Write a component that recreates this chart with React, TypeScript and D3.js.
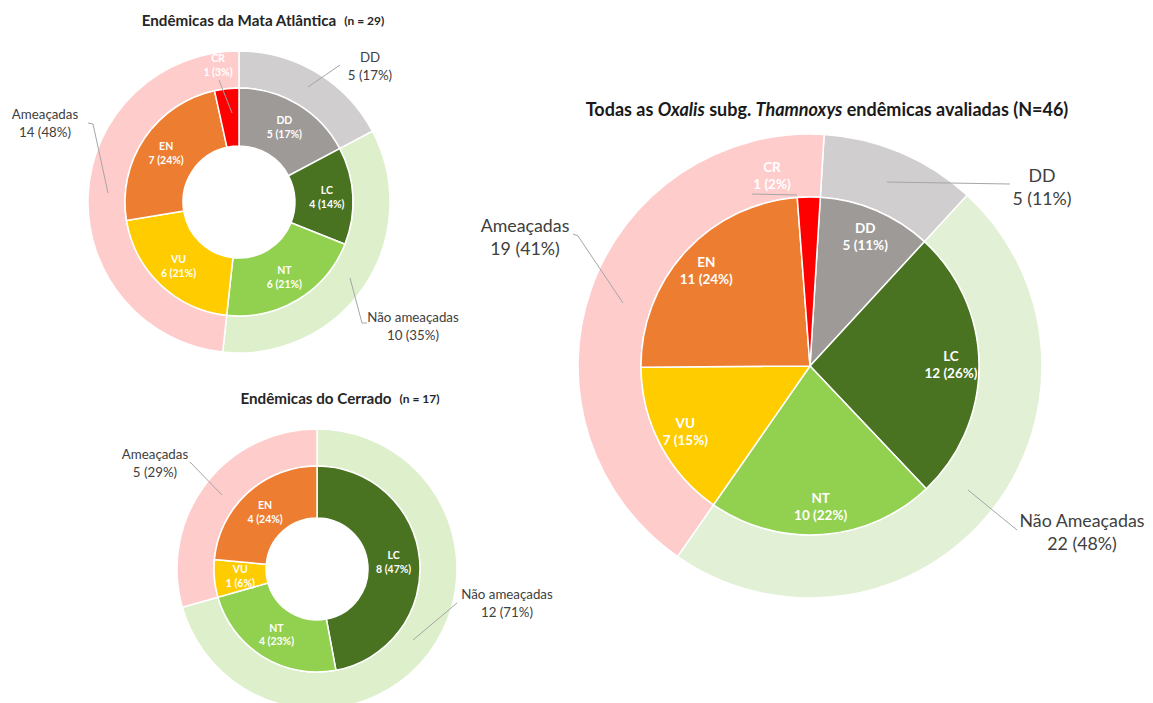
import React from 'react';
import * as d3 from 'd3';

const FONT = "Lato, 'Open Sans', sans-serif";

// ---------- DATA ----------
// Endêmicas da Mata Atlântica (n = 29)
const maInnerCats = ['DD', 'LC', 'NT', 'VU', 'EN', 'CR'];
const maInnerValues = [5, 4, 6, 6, 7, 1];
const maInnerPct = ['17%', '14%', '21%', '21%', '24%', '3%'];
const maOuterCats = ['DD', 'Não ameaçadas', 'Ameaçadas'];
const maOuterValues = [5, 10, 14];
const maOuterPct = ['17%', '35%', '48%'];

// Endêmicas do Cerrado (n = 17)
const ceInnerCats = ['LC', 'NT', 'VU', 'EN'];
const ceInnerValues = [8, 4, 1, 4];
const ceInnerPct = ['47%', '23%', '6%', '24%'];
const ceOuterCats = ['Não ameaçadas', 'Ameaçadas'];
const ceOuterValues = [12, 5];
const ceOuterPct = ['71%', '29%'];

// Todas (N = 46)
const toInnerCats = ['DD', 'LC', 'NT', 'VU', 'EN', 'CR'];
const toInnerValues = [5, 12, 10, 7, 11, 1];
const toInnerPct = ['11%', '26%', '22%', '15%', '24%', '2%'];
const toOuterCats = ['DD', 'Não Ameaçadas', 'Ameaçadas'];
const toOuterValues = [5, 22, 19];
const toOuterPct = ['11%', '48%', '41%'];

const colors: Record<string, string> = {
  DD: '#9E9A98',
  LC: '#4A7321',
  NT: '#92D050',
  VU: '#FFCC00',
  EN: '#ED7D31',
  CR: '#FF0000',
};
const outerColors: Record<string, string> = {
  DD: '#D0CECE',
  'Não ameaçadas': '#DDEFCB',
  'Não Ameaçadas': '#E2F0D6',
  Ameaçadas: '#FFCCCC',
};

type Slice = { cat: string; value: number; pct: string };
const zip = (c: string[], v: number[], p: string[]): Slice[] =>
  c.map((cat, i) => ({ cat, value: v[i], pct: p[i] }));

type OuterLayout = { dx: number; dy: number; leader: [number, number][] };

type Cfg = {
  cx: number;
  cy: number;
  rotation: number;
  rHole: number;
  rIn: number;
  rOut: number;
  labelR: number;
  innerFont: number;
  outerFont: number;
  outerLine: number;
  innerLine: number;
  inner: Slice[];
  outer: Slice[];
  outerLayout: Record<string, OuterLayout>;
  crLayout?: OuterLayout;
};

function Donut({ cfg }: { cfg: Cfg }) {
  const a0 = (cfg.rotation * Math.PI) / 180;
  const pie = d3
    .pie<Slice>()
    .sort(null)
    .startAngle(a0)
    .endAngle(a0 + 2 * Math.PI)
    .value((d) => d.value);
  const innerArcs = pie(cfg.inner);
  const outerArcs = pie(cfg.outer);
  const arcIn = d3.arc<d3.PieArcDatum<Slice>>().innerRadius(cfg.rHole).outerRadius(cfg.rIn);
  const arcOut = d3.arc<d3.PieArcDatum<Slice>>().innerRadius(cfg.rIn).outerRadius(cfg.rOut);
  const labelArc = d3.arc<d3.PieArcDatum<Slice>>().innerRadius(cfg.labelR).outerRadius(cfg.labelR);
  const line = d3.line();
  const lines = (a: Slice) => [a.cat, `${a.value} (${a.pct})`];

  return (
    <g transform={`translate(${cfg.cx},${cfg.cy})`}>
      {outerArcs.map((a, i) => (
        <path key={'o' + i} d={arcOut(a) || ''} fill={outerColors[a.data.cat]} stroke="#fff" strokeWidth={1.5} />
      ))}
      {innerArcs.map((a, i) => (
        <path key={'i' + i} d={arcIn(a) || ''} fill={colors[a.data.cat]} stroke="#fff" strokeWidth={1.5} />
      ))}
      {innerArcs.map((a, i) => {
        if (a.data.cat === 'CR' && cfg.crLayout) {
          const L = cfg.crLayout;
          return (
            <g key={'il' + i}>
              <path d={line(L.leader) || ''} stroke="#A6A6A6" strokeWidth={1} fill="none" />
              <text x={L.dx} y={L.dy} textAnchor="middle" fill="#fff" fontFamily={FONT} fontWeight={700} fontSize={cfg.innerFont}>
                {lines(a.data).map((t, j) => (
                  <tspan key={j} x={L.dx} dy={j === 0 ? -cfg.innerLine / 2 : cfg.innerLine} dominantBaseline="central">
                    {t}
                  </tspan>
                ))}
              </text>
            </g>
          );
        }
        const [x, y] = labelArc.centroid(a);
        return (
          <text key={'il' + i} x={x} y={y} textAnchor="middle" fill="#fff" fontFamily={FONT} fontWeight={700} fontSize={cfg.innerFont}>
            {lines(a.data).map((t, j) => (
              <tspan key={j} x={x} dy={j === 0 ? -cfg.innerLine / 2 : cfg.innerLine} dominantBaseline="central">
                {t}
              </tspan>
            ))}
          </text>
        );
      })}
      {outerArcs.map((a, i) => {
        const L = cfg.outerLayout[a.data.cat];
        if (!L) return null;
        return (
          <g key={'ol' + i}>
            <path d={line(L.leader) || ''} stroke="#A6A6A6" strokeWidth={1} fill="none" />
            <text x={L.dx} y={L.dy} textAnchor="middle" fill="#404040" fontFamily={FONT} fontSize={cfg.outerFont}>
              {lines(a.data).map((t, j) => (
                <tspan key={j} x={L.dx} dy={j === 0 ? -cfg.outerLine / 2 : cfg.outerLine} dominantBaseline="central">
                  {t}
                </tspan>
              ))}
            </text>
          </g>
        );
      })}
    </g>
  );
}

const cfgMA: Cfg = {
  cx: 239, cy: 202, rotation: 0, rHole: 56, rIn: 114, rOut: 151, labelR: 88,
  innerFont: 10.5, outerFont: 13.3, outerLine: 17.5, innerLine: 14,
  inner: zip(maInnerCats, maInnerValues, maInnerPct),
  outer: zip(maOuterCats, maOuterValues, maOuterPct),
  outerLayout: {
    DD: { dx: 131, dy: -136, leader: [[69, -115], [101, -137]] },
    Ameaçadas: { dx: -194, dy: -79, leader: [[-151, -79], [-146, -78], [-131, -9]] },
    'Não ameaçadas': { dx: 174, dy: 124, leader: [[111, 76], [123, 121], [128, 121]] },
  },
  crLayout: { dx: -21, dy: -137, leader: [[-20, -122], [-7, -89]] },
};

const cfgCE: Cfg = {
  cx: 317, cy: 569, rotation: 0, rHole: 51, rIn: 103, rOut: 140, labelR: 77,
  innerFont: 10.5, outerFont: 13.3, outerLine: 17.5, innerLine: 13.5,
  inner: zip(ceInnerCats, ceInnerValues, ceInnerPct),
  outer: zip(ceOuterCats, ceOuterValues, ceOuterPct),
  outerLayout: {
    Ameaçadas: { dx: -162, dy: -106, leader: [[-127, -107], [-95, -74]] },
    'Não ameaçadas': { dx: 190, dy: 34, leader: [[140, 34], [96, 71]] },
  },
};

const cfgTO: Cfg = {
  cx: 810, cy: 366, rotation: 3.5, rHole: 0, rIn: 169, rOut: 232, labelR: 141,
  innerFont: 13.5, outerFont: 17.8, outerLine: 23, innerLine: 17,
  inner: zip(toInnerCats, toInnerValues, toInnerPct),
  outer: zip(toOuterCats, toOuterValues, toOuterPct),
  outerLayout: {
    DD: { dx: 232, dy: -180, leader: [[77, -184], [200, -182]] },
    Ameaçadas: { dx: -285, dy: -130, leader: [[-237, -132], [-232, -130], [-187, -63]] },
    'Não Ameaçadas': { dx: 272, dy: 165, leader: [[158, 124], [207, 164]] },
  },
  crLayout: { dx: -38, dy: -191, leader: [[-58, -172], [-13, -171]] },
};

export default function App() {
  return (
    <svg width={1153} height={703} style={{ position: 'absolute', left: 0, top: 0, background: '#fff' }}>
      <rect width={1153} height={703} fill="#fff" />
      <Donut cfg={cfgMA} />
      <Donut cfg={cfgCE} />
      <Donut cfg={cfgTO} />
      <text x={263} y={20} textAnchor="middle" dominantBaseline="central" fontFamily={FONT} fontWeight={700} fill="#262626">
        <tspan fontSize={15.2}>Endêmicas da Mata Atlântica</tspan>
        <tspan fontSize={12} dx={8}>(n = 29)</tspan>
      </text>
      <text x={340} y={398} textAnchor="middle" dominantBaseline="central" fontFamily={FONT} fontWeight={700} fill="#262626">
        <tspan fontSize={15.2}>Endêmicas do Cerrado</tspan>
        <tspan fontSize={12} dx={8}>(n = 17)</tspan>
      </text>
      <text x={827} y={109} textAnchor="middle" dominantBaseline="central" fontFamily={FONT} fontWeight={700} fontSize={18} fill="#1a1a1a">
        <tspan>Todas as </tspan>
        <tspan fontStyle="italic">Oxalis</tspan>
        <tspan> subg. </tspan>
        <tspan fontStyle="italic">Thamnoxys</tspan>
        <tspan> endêmicas avaliadas (N=46)</tspan>
      </text>
    </svg>
  );
}
